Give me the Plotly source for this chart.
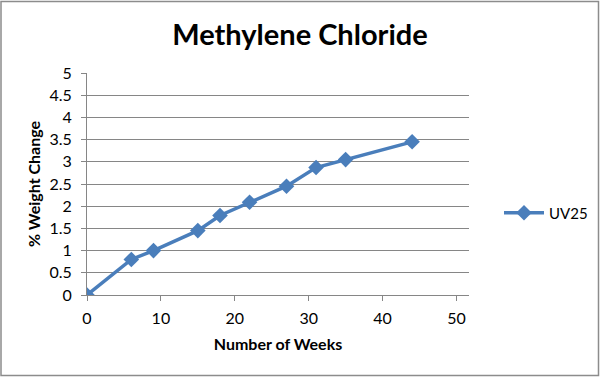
import plotly.graph_objects as go

weeks = [0, 6, 9, 15, 18, 22, 27, 31, 35, 44]
weight_change = [0, 0.8, 1.0, 1.45, 1.79, 2.09, 2.45, 2.87, 3.05, 3.45]
series_name = "UV25"
x_ticks = [0, 10, 20, 30, 40, 50]
y_ticks = [0, 0.5, 1, 1.5, 2, 2.5, 3, 3.5, 4, 4.5, 5]
y_tick_labels = ["0", "0.5", "1", "1.5", "2", "2.5", "3", "3.5", "4", "4.5", "5"]

FONT = "Lato"
L, R, T, B = 87, 131, 73, 82
W, H = 600, 377
pw, ph = W - L - R, H - T - B

fig = go.Figure()
fig.add_trace(go.Scatter(
    x=weeks, y=weight_change, name=series_name, mode="lines+markers",
    line=dict(color="#4A7EBB", width=3.5),
    marker=dict(symbol="diamond", size=12, color="#4A7EBB"),
))

axis_col = "#868686"
fig.update_layout(
    width=W, height=H,
    margin=dict(l=L, r=R, t=T, b=B, autoexpand=False),
    paper_bgcolor="white", plot_bgcolor="white",
    font=dict(family=FONT, color="black", size=16),
    title=dict(text="<b>Methylene Chloride</b>", x=0.5, xanchor="center",
               y=1 - 35 / H, yanchor="middle", font=dict(size=29, family=FONT)),
    showlegend=True,
    legend=dict(x=(499 - L) / pw, y=(295 - 213) / ph, xanchor="left", yanchor="middle",
                font=dict(size=15), itemwidth=40, bgcolor="rgba(0,0,0,0)"),
    xaxis=dict(range=[0, 51.7], tickvals=x_ticks, showgrid=False, zeroline=False,
               showline=True, linecolor=axis_col, linewidth=1, ticks="outside",
               tickcolor=axis_col, ticklen=5, automargin=False, ticklabelstandoff=4,
               title=dict(text="<b>Number of Weeks</b>", font=dict(size=16), standoff=12)),
    yaxis=dict(range=[0, 5], tickvals=y_ticks, ticktext=y_tick_labels,
               showgrid=True, gridcolor=axis_col, gridwidth=1, zeroline=False,
               showline=True, linecolor=axis_col, linewidth=1, ticks="outside",
               tickcolor=axis_col, ticklen=5, automargin=False, ticklabelstandoff=6,
               title=dict(text="<b>% Weight Change</b>", font=dict(size=16), standoff=4)),
)

fig.add_shape(type="rect", xref="paper", yref="paper",
              x0=(1 - L) / pw, x1=(W - 1.5 - L) / pw,
              y0=-(B - 1.5) / ph, y1=1 + (T - 1.5) / ph,
              line=dict(color="#8C8C8C", width=1.5), layer="above")

fig.write_html("out.html", config={"displayModeBar": False},
               post_script="document.body.style.margin='0';document.body.style.padding='0';")
